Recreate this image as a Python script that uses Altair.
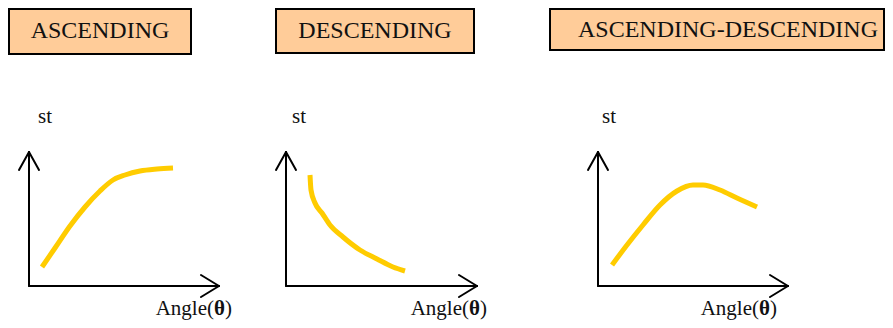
import altair as alt
import pandas as pd

# ---- title boxes (diagram coordinates, y grows downward) ----
box_labels = ["ASCENDING", "DESCENDING", "ASCENDING-DESCENDING"]
box_x0 = [9, 276, 550]
box_x1 = [191, 474, 884]
box_y0 = [9, 9, 9]
box_y1 = [54, 53, 50]
box_text_x = [100, 375, 728]
box_text_y = [38, 38, 37]

# ---- axes of the three small panels ----
origin_x = [29, 286, 598]
origin_y = [286, 286, 286]
yaxis_tip = [152, 152, 152]
xaxis_tip = [219, 477, 788]
arrow_len = 18
arrow_half = 11

# ---- curves ----
asc_x = [42, 55, 70, 85, 100, 113, 125, 140, 157, 173]
asc_y = [267, 248, 226, 207, 191, 180, 175, 171, 169, 168]
desc_x = [310, 311, 315, 322, 330, 343, 360, 377, 393, 405]
desc_y = [175, 190, 203, 213, 225, 237, 250, 259, 267, 271]
ad_x = [612, 627, 643, 660, 677, 693, 703, 720, 737, 757]
ad_y = [265, 245, 225, 205, 191, 185, 185, 190, 198, 207]

# ---- axis labels ----
st_x = [38, 292, 602]
st_y = [123, 123, 123]
angle_right = [232, 487, 777]
angle_y = [315, 315, 315]

FONT = "Liberation Serif"

boxes = pd.DataFrame({"x0": box_x0, "x1": box_x1, "y0": box_y0, "y1": box_y1,
                      "label": box_labels, "tx": box_text_x, "ty": box_text_y})

segs = []
for ox, oy, yt, xt in zip(origin_x, origin_y, yaxis_tip, xaxis_tip):
    segs.append((ox, oy, ox, yt))
    segs.append((ox - arrow_half + 1, yt + arrow_len, ox, yt))
    segs.append((ox + arrow_half - 1, yt + arrow_len, ox, yt))
    segs.append((ox, oy, xt, oy))
    segs.append((xt - arrow_len, oy - arrow_half, xt, oy))
    segs.append((xt - arrow_len, oy + arrow_half, xt, oy))
axes = pd.DataFrame(segs, columns=["x", "y", "x2", "y2"])

rows = []
for name, xs_, ys_ in [("asc", asc_x, asc_y), ("desc", desc_x, desc_y), ("ad", ad_x, ad_y)]:
    for i, (a, b) in enumerate(zip(xs_, ys_)):
        rows.append({"panel": name, "seq": i, "x": a, "y": b})
curves = pd.DataFrame(rows)

st = pd.DataFrame({"x": st_x, "y": st_y, "t": ["st"] * 3})
ang1 = pd.DataFrame({"x": [r - 18 for r in angle_right], "y": angle_y, "t": ["Angle("] * 3})
ang2 = pd.DataFrame({"x": [r - 12.5 for r in angle_right], "y": angle_y, "t": ["θ"] * 3})
ang3 = pd.DataFrame({"x": angle_right, "y": angle_y, "t": [")"] * 3})

xs = alt.Scale(domain=[8, 885], nice=False, zero=False)
ys = alt.Scale(domain=[8, 328], nice=False, zero=False, reverse=True)
X = lambda f: alt.X(f, type="quantitative", scale=xs, axis=None)
Y = lambda f: alt.Y(f, type="quantitative", scale=ys, axis=None)

rects = alt.Chart(boxes).mark_rect(fill="#FFCC99", stroke="#000000", strokeWidth=2).encode(
    x=X("x0"), x2="x1", y=Y("y0"), y2="y1")
rect_text = alt.Chart(boxes).mark_text(font=FONT, fontSize=24, color="#111111",
                                       align="center", baseline="alphabetic").encode(
    x=X("tx"), y=Y("ty"), text="label")
axis_lines = alt.Chart(axes).mark_rule(color="#000000", strokeWidth=2, strokeCap="round").encode(
    x=X("x"), y=Y("y"), x2="x2", y2="y2")
lines = alt.Chart(curves).mark_line(color="#FFCC00", strokeWidth=5, interpolate="monotone").encode(
    x=X("x"), y=Y("y"), detail="panel:N", order="seq:Q")
st_text = alt.Chart(st).mark_text(font=FONT, fontSize=21, color="#111111", align="left",
                                  baseline="alphabetic").encode(x=X("x"), y=Y("y"), text="t")
a1 = alt.Chart(ang1).mark_text(font=FONT, fontSize=21, color="#111111", align="right",
                               baseline="alphabetic").encode(x=X("x"), y=Y("y"), text="t")
a2 = alt.Chart(ang2).mark_text(font=FONT, fontSize=21, fontWeight="bold", color="#111111",
                               align="center", baseline="alphabetic").encode(x=X("x"), y=Y("y"), text="t")
a3 = alt.Chart(ang3).mark_text(font=FONT, fontSize=21, color="#111111", align="right",
                               baseline="alphabetic").encode(x=X("x"), y=Y("y"), text="t")

chart = alt.layer(rects, rect_text, axis_lines, lines, st_text, a1, a2, a3).properties(
    width=877, height=320, padding=0, background="white",
    autosize=alt.AutoSizeParams(type="none"),
).configure_view(stroke=None)

chart.save("out.html", embed_options={"renderer": "svg", "actions": False})
